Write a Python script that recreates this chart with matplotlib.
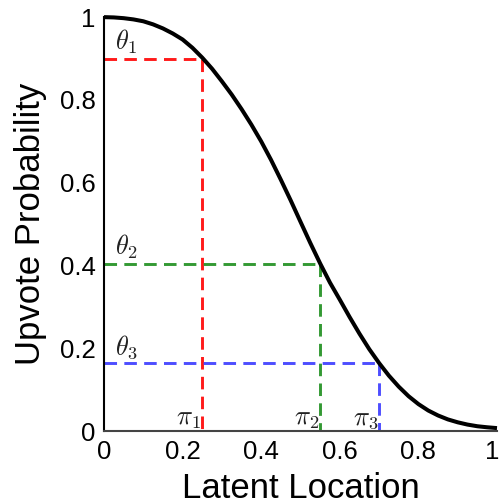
import matplotlib
matplotlib.use("Agg")
import matplotlib.pyplot as plt
import matplotlib.transforms as mtransforms

plt.rcParams['font.family'] = ['Liberation Sans', 'DejaVu Sans']
plt.rcParams['mathtext.fontset'] = 'cm'

# Curve
curve_x = [0.000, 0.025, 0.050, 0.075, 0.100, 0.125, 0.150, 0.175, 0.200, 0.225,
           0.250, 0.275, 0.300, 0.325, 0.350, 0.375, 0.400, 0.425, 0.450, 0.475,
           0.500, 0.525, 0.550, 0.575, 0.600, 0.625, 0.650, 0.675, 0.700, 0.725,
           0.750, 0.775, 0.800, 0.825, 0.850, 0.875, 0.900, 0.925, 0.950, 0.975,
           1.000]
curve_y = [1.000, 0.9993, 0.9975, 0.9945, 0.990, 0.9825, 0.9727, 0.9605, 0.946, 0.926,
           0.9022, 0.8754, 0.845, 0.813, 0.778, 0.7405, 0.700, 0.6555, 0.6075, 0.5577,
           0.506, 0.4547, 0.4054, 0.3591, 0.318, 0.276, 0.236, 0.1985, 0.165, 0.1345,
           0.108, 0.085, 0.066, 0.0505, 0.0385, 0.029, 0.022, 0.0165, 0.0125, 0.010,
           0.008]

# Marked locations and probabilities
pis = [0.25, 0.55, 0.70]
thetas = [0.90, 0.405, 0.165]
colors = ['#ff1a1a', '#339933', '#4d4dff']
theta_labels = [r'$\theta_1$', r'$\theta_2$', r'$\theta_3$']
pi_labels = [r'$\pi_1$', r'$\pi_2$', r'$\pi_3$']
xticks = [0, 0.2, 0.4, 0.6, 0.8, 1]
xticklabels = ['0', '0.2', '0.4', '0.6', '0.8', '1']
yticks = [0, 0.2, 0.4, 0.6, 0.8, 1]
yticklabels = ['0', '0.2', '0.4', '0.6', '0.8', '1']

fig = plt.figure(figsize=(5.0, 5.04), dpi=100)
ax = fig.add_axes([0.208, 0.144, 0.786, 0.822])

dash = (0, (4.3, 2.5))
for p, t, c in zip(pis, thetas, colors):
    ax.plot([0, p], [t, t], color=c, lw=2.1, linestyle=dash, zorder=2)
    ax.plot([p, p], [t, 0], color=c, lw=2.1, linestyle=dash, zorder=2)

ax.plot(curve_x, curve_y, color='black', lw=2.9, zorder=3, clip_on=False,
        solid_capstyle='butt', solid_joinstyle='round')

for p, t, tl, pl in zip(pis, thetas, theta_labels, pi_labels):
    ax.text(0.028, t + 0.006, tl, fontsize=19, ha='left', va='bottom', color='#222222')
    ax.text(p - 0.003, 0.0, pl, fontsize=19, ha='right', va='bottom', color='#222222')

ax.set_xlim(0, 1)
ax.set_ylim(0, 1)
ax.set_xticks(xticks)
ax.set_xticklabels(xticklabels)
ax.set_yticks(yticks)
ax.set_yticklabels(yticklabels)
ax.tick_params(length=0, labelsize=18.5, pad=6)
last = ax.get_xticklabels()[-1]
last.set_transform(last.get_transform() +
                   mtransforms.ScaledTranslation(-5 / 100, 0, fig.dpi_scale_trans))
for s in ['top', 'right']:
    ax.spines[s].set_visible(False)
ax.spines['left'].set_linewidth(1.5)
ax.spines['bottom'].set_linewidth(1.5)
ax.spines['bottom'].set_color('#444444')
ax.set_xlabel('Latent Location', fontsize=25, labelpad=6)
ax.set_ylabel('Upvote Probability', fontsize=25, labelpad=9)

fig.savefig('out.png', dpi=100)
